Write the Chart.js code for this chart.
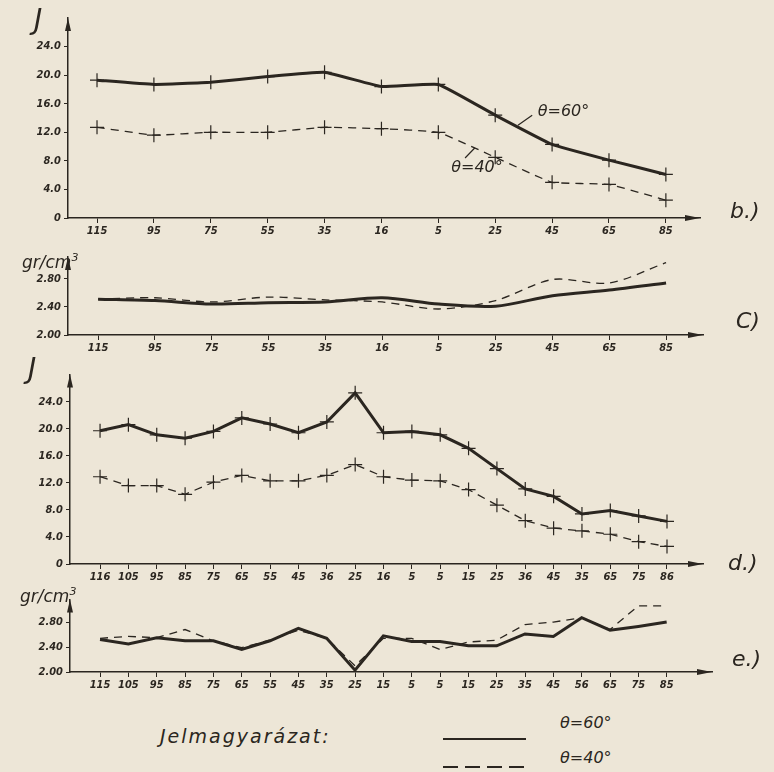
<!DOCTYPE html>
<html>
<head>
<meta charset="utf-8">
<script src="https://cdn.jsdelivr.net/npm/chart.js@4.4.1/dist/chart.umd.min.js"></script>
<style>
  body { margin: 0; background: #ede6d7; }
  #wrap { position: relative; width: 774px; height: 772px; overflow: hidden;
          font-family: "DejaVu Sans", sans-serif; color: #2b2620; }
  canvas { position: absolute; left: 0; }
  .lbl { position: absolute; font-style: italic; white-space: nowrap; line-height: 1; }
</style>
</head>
<body>
<div id="wrap">
  <canvas id="chartB" width="774" height="245" style="top:0"></canvas>
  <canvas id="chartC" width="774" height="120" style="top:245px"></canvas>
  <canvas id="chartD" width="774" height="225" style="top:365px"></canvas>
  <canvas id="chartE" width="774" height="110" style="top:590px"></canvas>

  <div class="lbl" style="left:34px;top:6px;font-size:28px">J</div>
  <div class="lbl" style="left:22px;top:252px;font-size:17px">gr/cm<sup style="font-size:11px">3</sup></div>
  <div class="lbl" style="left:28px;top:355px;font-size:28px">J</div>
  <div class="lbl" style="left:20px;top:586px;font-size:17px">gr/cm<sup style="font-size:11px">3</sup></div>

  <div class="lbl" style="left:730px;top:200px;font-size:22px">b.)</div>
  <div class="lbl" style="left:736px;top:310px;font-size:22px">C)</div>
  <div class="lbl" style="left:728px;top:552px;font-size:22px">d.)</div>
  <div class="lbl" style="left:732px;top:648px;font-size:22px">e.)</div>

  <div class="lbl" style="left:160px;top:727px;font-size:19px;letter-spacing:2px">Jelmagyarázat:</div>
  <svg style="position:absolute;left:440px;top:730px" width="90" height="42">
    <line x1="3" y1="9" x2="86" y2="9" stroke="#2b2620" stroke-width="2"/>
    <line x1="3" y1="37" x2="86" y2="37" stroke="#2b2620" stroke-width="2" stroke-dasharray="15 7"/>
  </svg>
  <div class="lbl" style="left:560px;top:715px;font-size:16px">θ=60°</div>
  <div class="lbl" style="left:560px;top:750px;font-size:16px">θ=40°</div>
</div>

<script>
// depth labels (m) and measured values
const depthB = ["115", "95", "75", "55", "35", "16", "5", "25", "45", "65", "85"];
const jB60 = [19.3, 18.7, 19.0, 19.8, 20.4, 18.4, 18.7, 14.4, 10.3, 8.1, 6.1];
const jB40 = [12.7, 11.6, 12.0, 12.0, 12.7, 12.5, 12.0, 8.5, 5.0, 4.7, 2.5];

const depthC = ["115", "95", "75", "55", "35", "16", "5", "25", "45", "65", "85"];
const rhoC60 = [2.51, 2.49, 2.44, 2.46, 2.47, 2.53, 2.44, 2.41, 2.56, 2.64, 2.74];
const rhoC40 = [2.51, 2.53, 2.47, 2.54, 2.50, 2.47, 2.37, 2.49, 2.79, 2.74, 3.03];

const depthD = ["116", "105", "95", "85", "75", "65", "55", "45", "36", "25", "16",
                "5", "5", "15", "25", "36", "45", "35", "65", "75", "86"];
const jD60 = [19.7, 20.6, 19.1, 18.6, 19.6, 21.6, 20.7, 19.4, 21.0, 25.3, 19.4,
              19.6, 19.1, 17.1, 14.1, 11.1, 10.0, 7.4, 7.9, 7.1, 6.3];
const jD40 = [12.9, 11.6, 11.6, 10.3, 12.1, 13.1, 12.3, 12.3, 13.1, 14.7, 12.9,
              12.4, 12.3, 11.0, 8.7, 6.4, 5.3, 4.9, 4.4, 3.3, 2.6];

const depthE = ["115", "105", "95", "85", "75", "65", "55", "45", "35", "25", "15",
                "5", "5", "15", "25", "35", "45", "56", "65", "75", "85"];
const rhoE60 = [2.52, 2.45, 2.55, 2.50, 2.50, 2.36, 2.50, 2.70, 2.54, 2.03, 2.58,
                2.49, 2.49, 2.42, 2.42, 2.61, 2.57, 2.87, 2.67, 2.73, 2.80];
const rhoE40 = [2.54, 2.57, 2.55, 2.68, 2.50, 2.39, 2.51, 2.67, 2.54, 2.10, 2.54,
                2.54, 2.36, 2.48, 2.51, 2.76, 2.80, 2.87, 2.68, 3.06, 3.06];

const jTicks = [0, 4, 8, 12, 16, 20, 24];
const rhoTicks = [2.0, 2.4, 2.8];

const ink = "#2b2620";
const tickFont = { family: "'DejaVu Sans Condensed', 'DejaVu Sans', sans-serif", size: 11, style: "italic", weight: "bold" };

// arrowheads at the ends of both axes
const axisArrows = {
    id: "axisArrows",
    afterDraw(chart) {
        const { ctx, chartArea: { left, top, right, bottom } } = chart;
        ctx.save();
        ctx.fillStyle = ink;
        ctx.beginPath();
        ctx.moveTo(left, top);
        ctx.lineTo(left - 3, top + 13);
        ctx.lineTo(left + 3, top + 13);
        ctx.fill();
        ctx.beginPath();
        ctx.moveTo(right, bottom);
        ctx.lineTo(right - 15, bottom - 3);
        ctx.lineTo(right - 15, bottom + 3);
        ctx.fill();
        ctx.restore();
    },
};

function makePanel(id, labels, s60, s40, o) {
    const pts = (arr) => arr.map((v, i) => ({ x: i, y: v }));
    return new Chart(document.getElementById(id), {
        type: "line",
        data: {
            datasets: [
                {
                    label: "θ=60°",
                    data: pts(s60),
                    borderColor: ink,
                    borderWidth: 3,
                    tension: o.tension,
                    pointStyle: "cross",
                    pointRadius: o.markers ? 7 : 0,
                    pointBorderColor: ink,
                    pointBorderWidth: 1.2,
                },
                {
                    label: "θ=40°",
                    data: pts(s40),
                    borderColor: ink,
                    borderWidth: 1.3,
                    borderDash: [8, 6],
                    tension: o.tension,
                    pointStyle: "cross",
                    pointRadius: o.markers ? 7 : 0,
                    pointBorderColor: ink,
                    pointBorderWidth: 1.2,
                },
            ],
        },
        options: {
            responsive: false,
            animation: false,
            layout: { padding: { top: o.padTop, right: 774 - o.right, bottom: 0, left: 0 } },
            plugins: { legend: { display: false }, tooltip: { enabled: false } },
            scales: {
                x: {
                    type: "linear",
                    min: o.xMin,
                    max: o.xMax,
                    afterBuildTicks: (s) => { s.ticks = labels.map((_, i) => ({ value: i })); },
                    afterFit: (s) => { s.height = o.axisH; },
                    ticks: {
                        autoSkip: false,
                        maxRotation: 0,
                        padding: 2,
                        color: ink,
                        font: tickFont,
                        callback: (v) => labels[v],
                    },
                    grid: { drawOnChartArea: false, tickLength: 5, color: ink, lineWidth: 1 },
                    border: { color: ink, width: 1.5 },
                },
                y: {
                    min: o.yMin,
                    max: o.yMax,
                    afterBuildTicks: (s) => { s.ticks = o.yTicks.map((v) => ({ value: v })); },
                    afterFit: (s) => { s.width = o.left; },
                    ticks: {
                        padding: 3,
                        color: ink,
                        font: tickFont,
                        callback: o.fmt,
                    },
                    grid: { drawOnChartArea: false, tickLength: 4, color: ink, lineWidth: 1 },
                    border: { color: ink, width: 1.5 },
                },
            },
        },
        plugins: [axisArrows].concat(o.extra || []),
    });
}

const fmtJ = (v) => (v === 0 ? "0" : v.toFixed(1));
const fmtRho = (v) => v.toFixed(2);

// curve captions of panel b, anchored on the scales
const captionsB = {
    id: "captionsB",
    afterDatasetsDraw(chart) {
        const { ctx, scales: { x, y } } = chart;
        ctx.save();
        ctx.strokeStyle = ink;
        ctx.lineWidth = 1.2;
        ctx.beginPath();
        ctx.moveTo(x.getPixelForValue(7.4), y.getPixelForValue(13.0));
        ctx.lineTo(x.getPixelForValue(7.65), y.getPixelForValue(14.4));
        ctx.moveTo(x.getPixelForValue(6.47), y.getPixelForValue(8.4));
        ctx.lineTo(x.getPixelForValue(6.64), y.getPixelForValue(9.8));
        ctx.stroke();
        ctx.fillStyle = ink;
        ctx.font = "italic 16px 'DejaVu Sans', sans-serif";
        ctx.textAlign = "center";
        ctx.textBaseline = "middle";
        ctx.fillText("θ=60°", x.getPixelForValue(8.2), y.getPixelForValue(14.8));
        ctx.fillText("θ=40°", x.getPixelForValue(6.68), y.getPixelForValue(7.0));
        ctx.restore();
    },
};

makePanel("chartB", depthB, jB60, jB40, {
    left: 68, right: 700, padTop: 18, axisH: 27,
    xMin: -0.51, xMax: 10.6, yMin: 0, yMax: 28, yTicks: jTicks, fmt: fmtJ,
    markers: true, tension: 0.1, extra: [captionsB],
});
makePanel("chartC", depthC, rhoC60, rhoC40, {
    left: 68, right: 703, padTop: 12, axisH: 30,
    xMin: -0.53, xMax: 10.65, yMin: 2.0, yMax: 3.11, yTicks: rhoTicks, fmt: fmtRho,
    markers: false, tension: 0.3,
});
makePanel("chartD", depthD, jD60, jD40, {
    left: 70, right: 703, padTop: 2, axisH: 26,
    xMin: -1.06, xMax: 21.27, yMin: 0, yMax: 28, yTicks: jTicks, fmt: fmtJ,
    markers: true, tension: 0,
});
makePanel("chartE", depthE, rhoE60, rhoE40, {
    left: 70, right: 712, padTop: 2, axisH: 28,
    xMin: -1.06, xMax: 21.6, yMin: 2.0, yMax: 3.16, yTicks: rhoTicks, fmt: fmtRho,
    markers: false, tension: 0,
});
</script>
</body>
</html>
